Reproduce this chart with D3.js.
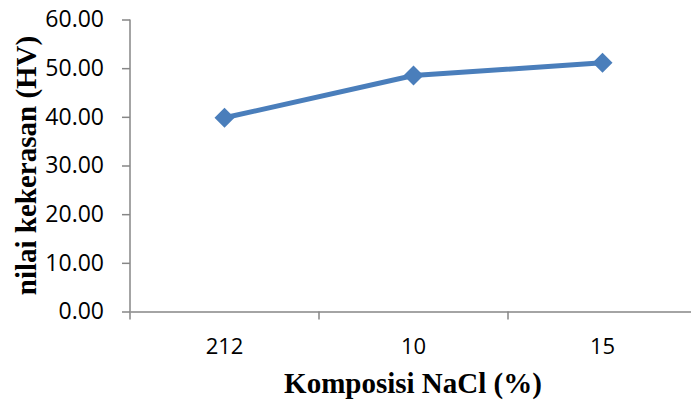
<!DOCTYPE html>
<html>
<head>
<meta charset="utf-8">
<script src="https://cdn.jsdelivr.net/npm/d3@7"></script>
<style>
  body { margin: 0; background: #fff; }
  svg { display: block; }
</style>
</head>
<body>
<svg id="chart"></svg>
<script>
const categories = ["212", "10", "15"];
const hardness = [39.8, 48.5, 51.1];
const yTicks = [0, 10, 20, 30, 40, 50, 60];

const width = 691;
const height = 403;
const margin = { left: 130, right: -6, top: 19.5, bottom: 91.5 };

const svg = d3.select("#chart")
  .attr("width", width)
  .attr("height", height);

const x = d3.scaleBand()
  .domain(categories)
  .range([margin.left, width - margin.right]);

const y = d3.scaleLinear()
  .domain([0, 60])
  .range([height - margin.bottom, margin.top]);

const axisColor = "#868686";
const labelFont = "'Open Sans', Lato, sans-serif";
const titleFont = "'Liberation Serif', 'Times New Roman', serif";

// y axis
const yAxis = svg.append("g")
  .attr("transform", `translate(${margin.left},0)`)
  .call(d3.axisLeft(y).tickValues(yTicks).tickSize(8).tickPadding(18).tickFormat(d3.format(".2f")));
yAxis.select(".domain").attr("stroke", axisColor).attr("stroke-width", 1.5).attr("d", `M0,${margin.top}V${y(0) + 8}`);
yAxis.selectAll(".tick line").attr("stroke", axisColor).attr("stroke-width", 1.5);
yAxis.selectAll(".tick text")
  .attr("fill", "#000")
  .style("font-family", labelFont)
  .style("font-size", "23px");

// x axis
const xAxis = svg.append("g")
  .attr("transform", `translate(0,${y(0)})`)
  .call(d3.axisBottom(x).tickSize(0).tickPadding(27));
xAxis.select(".domain").attr("stroke", axisColor).attr("stroke-width", 1.5);
xAxis.selectAll(".tick text")
  .attr("fill", "#000")
  .style("font-family", labelFont)
  .style("font-size", "22px");

// category boundary ticks
svg.append("g")
  .selectAll("line")
  .data(categories.slice(1))
  .join("line")
  .attr("x1", d => x(d))
  .attr("x2", d => x(d))
  .attr("y1", y(0))
  .attr("y2", y(0) + 8)
  .attr("stroke", axisColor)
  .attr("stroke-width", 1.5);

// line
const line = d3.line()
  .x((d, i) => x(categories[i]) + x.bandwidth() / 2)
  .y(d => y(d));

svg.append("path")
  .datum(hardness)
  .attr("fill", "none")
  .attr("stroke", "#4a7ebb")
  .attr("stroke-width", 5)
  .attr("stroke-linejoin", "round")
  .attr("d", line);

svg.append("g")
  .selectAll("path")
  .data(hardness)
  .join("path")
  .attr("d", d3.symbol().type(d3.symbolSquare).size(200))
  .attr("transform", (d, i) => `translate(${x(categories[i]) + x.bandwidth() / 2},${y(d)}) rotate(45)`)
  .attr("fill", "#4a7ebb");

// titles
svg.append("text")
  .attr("transform", `translate(36,${(margin.top + y(0)) / 2}) rotate(-90)`)
  .attr("text-anchor", "middle")
  .style("font-family", titleFont)
  .style("font-weight", "bold")
  .style("font-size", "29px")
  .text("nilai kekerasan (HV)");

svg.append("text")
  .attr("x", 413)
  .attr("y", 393)
  .attr("text-anchor", "middle")
  .style("font-family", titleFont)
  .style("font-weight", "bold")
  .style("font-size", "29px")
  .text("Komposisi NaCl (%)");
</script>
</body>
</html>
